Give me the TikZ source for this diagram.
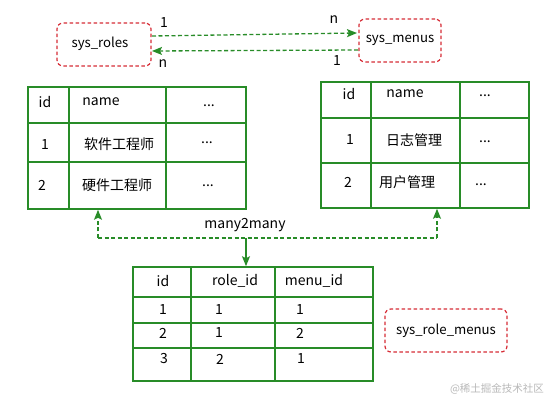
\documentclass[tikz,border=0pt]{standalone}
\usepackage{fontspec}
\setmainfont{Noto Sans CJK SC}
\usetikzlibrary{arrows.meta}
\definecolor{tgreen}{RGB}{40,140,40}
\definecolor{tred}{RGB}{215,45,55}
\definecolor{wm}{RGB}{185,185,185}
\tikzset{
  x=1pt,y=-1pt,
  every node/.style={font=\fontsize{14}{16}\selectfont, inner sep=0pt},
  etext/.style={font=\fontsize{13.2}{15}\selectfont},
  entity/.style={draw=tred, dashed, dash pattern=on 3.5pt off 2.5pt, line width=1.2pt, rounded corners=6pt},
  tbl/.style={draw=tgreen, line width=1.6pt},
  grid/.style={draw=tgreen, line width=1.4pt},
  rel/.style={draw=tgreen, line width=1.3pt, dash pattern=on 4pt off 2.5pt, -{Stealth[length=10pt,width=8pt,inset=2pt]}},
  relp/.style={draw=tgreen, line width=1.3pt, dash pattern=on 4pt off 2.5pt},
}
\begin{document}
\begin{tikzpicture}
\useasboundingbox[fill=white] (0,0) rectangle (554,403);
% entity boxes
\node[entity, minimum width=94pt, minimum height=43pt] (roles) at (104,44.5) {};
\node[etext] at (100,44) (rolesT) {sys\_roles};
\node[entity, minimum width=82pt, minimum height=43pt] (menus) at (400,40.5) {};
\node[etext] at (400,40) (menusT) {sys\_menus};
\node[entity, minimum width=122pt, minimum height=43pt] (rm) at (446,330.5) {};
\node[etext] at (446,331) (rmT) {sys\_role\_menus};
% relation arrows
\coordinate (a1) at (152,36);
\coordinate (a2) at (357,33);
\coordinate (b1) at (358,50);
\coordinate (b2) at (152,51);
\draw[rel] (a1) -- (a2);
\draw[rel] (b1) -- (b2);
\node (l1) at (164,23) {1};
\node (l2) at (334,20) {n};
\node (l3) at (163,64) {n};
\node (l4) at (337,61) {1};
% left table
\node[tbl, minimum width=218pt, minimum height=122pt] (tr) at (137,148) {};
\draw[grid] (69,87) -- (69,209) (166,87) -- (166,209) (28,123) -- (246,123) (28,162) -- (246,162);
\node (r00) at (45,102) {id};
\node (r01) at (101,102) {name};
\node (r02) at (209,106) {...};
\node (r10) at (45,145) {1};
\node (r11) at (119,144) {软件工程师};
\node (r12) at (207,143) {...};
\node (r20) at (42,185) {2};
\node (r21) at (117,185) {硬件工程师};
\node (r22) at (208,186) {...};
% right table
\node[tbl, minimum width=208pt, minimum height=126pt] (tm) at (425,145) {};
\draw[grid] (371,82) -- (371,208) (460,82) -- (460,208) (321,118) -- (529,118) (321,163) -- (529,163);
\node (m00) at (349,94) {id};
\node (m01) at (405,94) {name};
\node (m02) at (485,96) {...};
\node (m10) at (350,140) {1};
\node (m11) at (414,140) {日志管理};
\node (m12) at (485,142) {...};
\node (m20) at (348,182) {2};
\node (m21) at (407,182) {用户管理};
\node (m22) at (481,185) {...};
% bottom table
\node[tbl, minimum width=240pt, minimum height=114pt] (tj) at (253,324) {};
\draw[grid] (191,267) -- (191,381) (275,267) -- (275,381) (133,297) -- (373,297) (133,323) -- (373,323) (133,348) -- (373,348);
\node (j00) at (163,281) {id};
\node (j01) at (235,281) {role\_id};
\node (j02) at (314,281) {menu\_id};
\node (j10) at (163,310) {1};
\node (j11) at (219,310) {1};
\node (j12) at (300,310) {1};
\node (j20) at (163,333) {2};
\node (j21) at (219,333) {1};
\node (j22) at (300,333) {2};
\node (j30) at (164,359) {3};
\node (j31) at (220,359) {2};
\node (j32) at (301,359) {1};
% many2many connector
\coordinate (cl) at (98,238);
\coordinate (cr) at (437,238);
\coordinate (cm) at (246,238);
\draw[relp] (cl) -- (cr);
\draw[rel] (cl) -- (cl |- tr.south);
\draw[rel] (cr) -- (cr |- tm.south);
\draw[rel, solid] (cm) -- (cm |- tj.north);
\node (mm) at (245,225) {many2many};
% watermark
\node[text=wm, font=\fontsize{10.5}{12}\selectfont] (wmk) at (497,389) {@稀土掘金技术社区};
\end{tikzpicture}
\end{document}
